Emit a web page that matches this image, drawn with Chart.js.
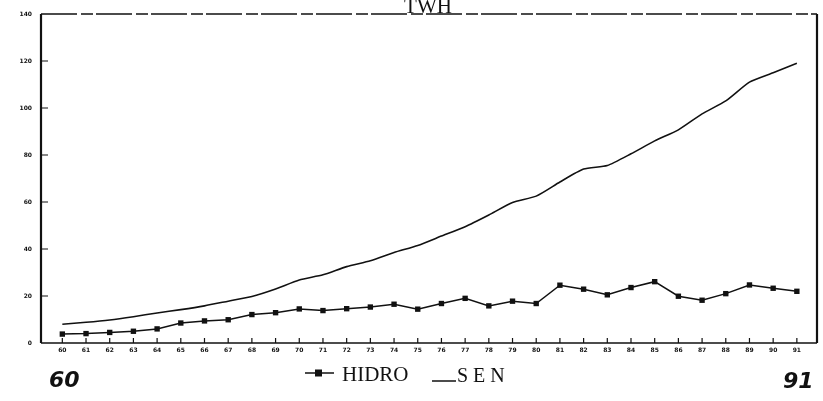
<!DOCTYPE html>
<html>
<head>
<meta charset="utf-8">
<script src="https://cdn.jsdelivr.net/npm/chart.js@4.4.0/dist/chart.umd.min.js"></script>
<style>
  html, body { margin: 0; padding: 0; background: #fff; }
  #wrap { position: relative; width: 823px; height: 401px; }
</style>
</head>
<body>
<div id="wrap"><canvas id="twhChart" width="823" height="401"></canvas></div>
<script>
// Data (TWH), years 1960-1991
const years = [60, 61, 62, 63, 64, 65, 66, 67, 68, 69, 70, 71, 72, 73, 74, 75,
               76, 77, 78, 79, 80, 81, 82, 83, 84, 85, 86, 87, 88, 89, 90, 91];
const hidro = [3.8, 4.0, 4.5, 5.0, 6.0, 8.5, 9.4, 9.9, 12.1, 12.9, 14.5, 13.8, 14.6, 15.3, 16.5, 14.4,
               16.8, 19.0, 15.8, 17.8, 16.8, 24.6, 22.9, 20.5, 23.6, 26.1, 19.9, 18.2, 21.0, 24.7, 23.3, 22.0];
const sen = [8.0, 8.8, 9.8, 11.2, 12.8, 14.2, 15.8, 17.8, 19.8, 23.0, 26.8, 29.0, 32.5, 35.0, 38.5, 41.5,
             45.5, 49.5, 54.5, 59.8, 62.5, 68.5, 74.0, 75.5, 80.5, 86.0, 90.7, 97.5, 103.0, 111.0, 115.0, 119.0];
const yTicks = [0, 20, 40, 60, 80, 100, 120, 140];

const ink = '#111';

// frame, inward ticks, title, legend and the hand-written years
const decor = {
    id: 'decor',
    afterDraw(chart) {
        const ctx = chart.ctx;
        const a = chart.chartArea;
        const xs = chart.scales.x;
        const ys = chart.scales.y;
        ctx.save();
        ctx.strokeStyle = ink;
        ctx.lineCap = 'butt';

        // left + right solid, bottom solid, top dashed
        ctx.lineWidth = 2.2;
        ctx.beginPath();
        ctx.moveTo(a.left, a.top); ctx.lineTo(a.left, a.bottom);
        ctx.moveTo(a.right, a.top); ctx.lineTo(a.right, a.bottom);
        ctx.stroke();
        ctx.lineWidth = 1.5;
        ctx.beginPath();
        ctx.moveTo(a.left, a.bottom); ctx.lineTo(a.right, a.bottom);
        ctx.stroke();
        ctx.setLineDash([36, 4, 12, 3]);
        ctx.beginPath();
        ctx.moveTo(a.left, a.top); ctx.lineTo(a.right, a.top);
        ctx.stroke();
        ctx.setLineDash([]);

        // inward ticks
        ctx.lineWidth = 1.2;
        ctx.beginPath();
        years.forEach(yr => {
            const px = xs.getPixelForValue(yr);
            ctx.moveTo(px, a.bottom); ctx.lineTo(px, a.bottom - 5);
        });
        yTicks.slice(1, -1).forEach(v => {
            const py = ys.getPixelForValue(v);
            ctx.moveTo(a.left, py); ctx.lineTo(a.left + 7, py);
        });
        ctx.stroke();

        // title, cut at the top edge
        ctx.fillStyle = ink;
        ctx.font = '21px "Liberation Serif"';
        ctx.textAlign = 'center';
        ctx.textBaseline = 'alphabetic';
        ctx.fillText('TWH', 428, 13);

        // legend
        const ly = 373;
        ctx.lineWidth = 1.5;
        ctx.beginPath();
        ctx.moveTo(305, ly); ctx.lineTo(334, ly);
        ctx.stroke();
        ctx.fillRect(315, ly - 3.5, 7, 7);
        ctx.font = '21px "Liberation Serif"';
        ctx.textAlign = 'left';
        ctx.fillText('HIDRO', 342, 381);
        ctx.beginPath();
        ctx.moveTo(432, 381); ctx.lineTo(456, 381);
        ctx.stroke();
        ctx.font = '20px "Liberation Serif"';
        ctx.fillText('S E N', 457, 382);

        // hand-written range marks
        ctx.font = 'italic bold 22px "DejaVu Sans"';
        ctx.fillText('60', 49, 387);
        ctx.fillText('91', 783, 388);
        ctx.restore();
    }
};

new Chart(document.getElementById('twhChart'), {
    type: 'line',
    data: {
        datasets: [{
            label: 'HIDRO',
            data: years.map((yr, i) => ({ x: yr, y: hidro[i] })),
            borderColor: ink,
            backgroundColor: ink,
            borderWidth: 1.5,
            pointStyle: 'rect',
            pointRadius: 3.8,
            pointBackgroundColor: ink,
            pointBorderWidth: 0,
            tension: 0
        }, {
            label: 'SEN',
            data: years.map((yr, i) => ({ x: yr, y: sen[i] })),
            borderColor: ink,
            borderWidth: 1.6,
            pointRadius: 0,
            tension: 0.2
        }]
    },
    options: {
        responsive: false,
        animation: false,
        layout: { padding: { left: 0, top: 14, right: 6, bottom: 0 } },
        plugins: {
            legend: { display: false },
            title: { display: false },
            tooltip: { enabled: false }
        },
        scales: {
            x: {
                type: 'linear',
                min: 59.1,
                max: 91.85,
                grid: { display: false, drawTicks: false },
                border: { display: false },
                afterFit: s => { s.height = 58; },
                afterBuildTicks: s => { s.ticks = years.map(v => ({ value: v })); },
                ticks: {
                    autoSkip: false,
                    maxRotation: 0,
                    padding: 4,
                    color: ink,
                    font: { family: 'DejaVu Sans', size: 6, weight: 'bold' },
                    callback: v => String(v)
                }
            },
            y: {
                min: 0,
                max: 140,
                grid: { display: false, drawTicks: false },
                border: { display: false },
                afterFit: s => { s.width = 41; },
                afterBuildTicks: s => { s.ticks = yTicks.map(v => ({ value: v })); },
                ticks: {
                    padding: 9,
                    color: ink,
                    font: { family: 'DejaVu Sans', size: 6, weight: 'bold' }
                }
            }
        }
    },
    plugins: [decor]
});
</script>
</body>
</html>
